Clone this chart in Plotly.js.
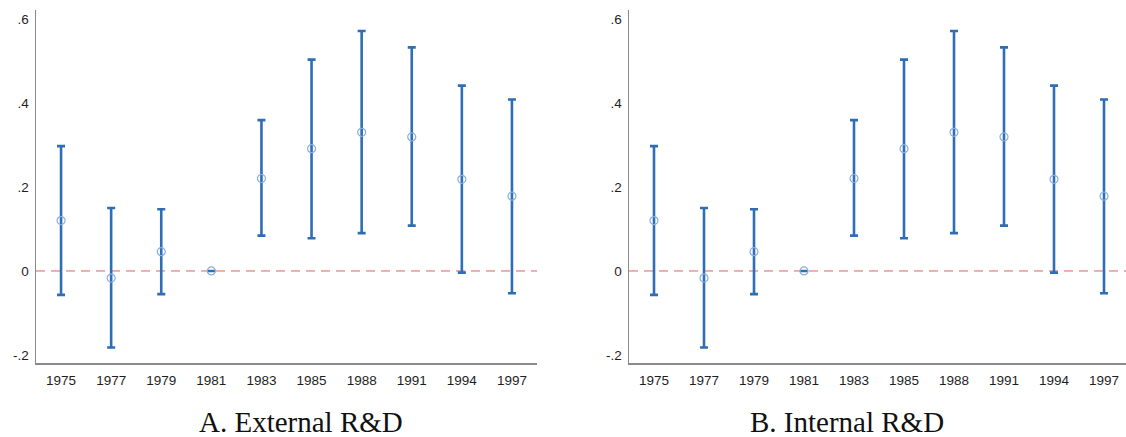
<!DOCTYPE html>
<html>
<head>
<meta charset="utf-8">
<script src="https://cdn.plot.ly/plotly-3.0.1.min.js"></script>
<style>html,body{margin:0;padding:0;background:#fff;}#chart{width:1126px;height:437px;}</style>
</head>
<body>
<div id="chart"></div>
<script>
// Data
const years = ['1975','1977','1979','1981','1983','1985','1988','1991','1994','1997'];
const extCoef  = [0.120, -0.017, 0.046, 0.000, 0.220, 0.291, 0.330, 0.319, 0.218, 0.178];
const extLower = [-0.057, -0.182, -0.055, 0.000, 0.084, 0.078, 0.090, 0.108, -0.004, -0.053];
const extUpper = [0.297, 0.150, 0.147, 0.000, 0.359, 0.503, 0.571, 0.532, 0.441, 0.408];
const intCoef  = [0.120, -0.017, 0.046, 0.000, 0.220, 0.291, 0.330, 0.319, 0.218, 0.178];
const intLower = [-0.057, -0.182, -0.055, 0.000, 0.084, 0.078, 0.090, 0.108, -0.004, -0.053];
const intUpper = [0.297, 0.150, 0.147, 0.000, 0.359, 0.503, 0.571, 0.532, 0.441, 0.408];
const yTickVals = [-0.2, 0, 0.2, 0.4, 0.6];
const yTickText = ['-.2', '0', '.2', '.4', '.6'];
const panelTitles = ['A. External R&amp;D', 'B. Internal R&amp;D'];

const W = 1126, H = 437;
const barColor = '#2f6db5';
const markerColor = '#86aee0';

function mkTrace(coef, lo, hi, xa, ya) {
  return {
    type: 'scatter', mode: 'markers',
    x: years, y: coef, xaxis: xa, yaxis: ya,
    marker: {symbol: 'circle-open', size: 8, color: markerColor, line: {width: 1.2, color: markerColor}},
    error_y: {
      type: 'data', symmetric: false,
      array: hi.map((v, i) => v - coef[i]),
      arrayminus: coef.map((v, i) => v - lo[i]),
      color: barColor, thickness: 2.6, width: 4
    },
    showlegend: false, hoverinfo: 'skip'
  };
}

const yDom = [(H - 363) / H, (H - 10) / H];
const yRange = [-0.219, 0.621];
const axisCommon = {
  showgrid: false, zeroline: false, showline: true, linecolor: '#8a8a8a', linewidth: 1.5,
  ticks: '', tickfont: {family: 'Liberation Sans, Arial', size: 13.5, color: '#1e1e1e'}
};

const layout = {
  width: W, height: H,
  margin: {l: 0, r: 0, t: 0, b: 0},
  paper_bgcolor: '#fff', plot_bgcolor: '#fff',
  xaxis: Object.assign({}, axisCommon, {domain: [36 / W, 537 / W], type: 'category', range: [-0.5, 9.5], anchor: 'y', ticklabelstandoff: 4}),
  yaxis: Object.assign({}, axisCommon, {domain: yDom, range: yRange, tickvals: yTickVals, ticktext: yTickText, anchor: 'x', ticklabelstandoff: 3}),
  xaxis2: Object.assign({}, axisCommon, {domain: [629 / W, 1], type: 'category', range: [-0.5, 9.44], anchor: 'y2', ticklabelstandoff: 4}),
  yaxis2: Object.assign({}, axisCommon, {domain: yDom, range: yRange, tickvals: yTickVals, ticktext: yTickText, anchor: 'x2', ticklabelstandoff: 3}),
  shapes: [
    {type: 'line', xref: 'x domain', yref: 'y', x0: 0, x1: 1, y0: 0, y1: 0, layer: 'below',
     line: {color: '#d9606c', width: 1, dash: '9px,6px'}},
    {type: 'line', xref: 'x2 domain', yref: 'y2', x0: 0, x1: 1, y0: 0, y1: 0, layer: 'below',
     line: {color: '#d9606c', width: 1, dash: '9px,6px'}}
  ],
  annotations: [
    {text: panelTitles[0], xref: 'paper', yref: 'paper', x: 300.7 / W, y: (H - 422) / H,
     xanchor: 'center', yanchor: 'middle', showarrow: false,
     font: {family: 'Liberation Serif, Times New Roman', size: 29, color: '#111'}},
    {text: panelTitles[1], xref: 'paper', yref: 'paper', x: 846.7 / W, y: (H - 422) / H,
     xanchor: 'center', yanchor: 'middle', showarrow: false,
     font: {family: 'Liberation Serif, Times New Roman', size: 29, color: '#111'}}
  ]
};

Plotly.newPlot('chart', [
  mkTrace(extCoef, extLower, extUpper, 'x', 'y'),
  mkTrace(intCoef, intLower, intUpper, 'x2', 'y2')
], layout, {staticPlot: true, displayModeBar: false});
</script>
</body>
</html>
